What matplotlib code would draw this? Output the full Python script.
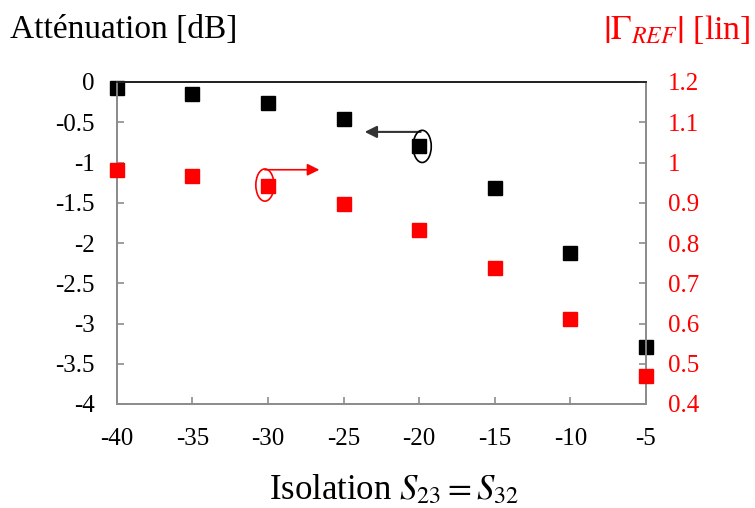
import matplotlib
matplotlib.use("Agg")
import matplotlib.pyplot as plt
from matplotlib.patches import Ellipse

plt.rcParams['font.family'] = ['Liberation Serif', 'DejaVu Serif']
plt.rcParams['mathtext.fontset'] = 'stix'

isolation = [-40, -35, -30, -25, -20, -15, -10, -5]
attenuation_db = [-0.07, -0.15, -0.26, -0.46, -0.80, -1.32, -2.12, -3.29]
gamma_ref = [0.981, 0.966, 0.941, 0.898, 0.832, 0.738, 0.611, 0.470]

left_ticks = [0, -0.5, -1, -1.5, -2, -2.5, -3, -3.5, -4]
right_ticks = [1.2, 1.1, 1.0, 0.9, 0.8, 0.7, 0.6, 0.5, 0.4]
x_ticks = [-40, -35, -30, -25, -20, -15, -10, -5]

fig = plt.figure(figsize=(7.55, 5.08), dpi=100)
ax = fig.add_axes([116.7 / 755, 1 - 404 / 508, (646 - 116.7) / 755, (404 - 82) / 508])
ax2 = ax.twinx()

spine_gray = '#8c8c8c'
for a in (ax, ax2):
    for s in ('left', 'right', 'bottom'):
        a.spines[s].set_color(spine_gray)
        a.spines[s].set_linewidth(1.3)
    a.spines['top'].set_color('#222222')
    a.spines['top'].set_linewidth(1.3)

ax.plot(isolation, attenuation_db, 's', color='black', markersize=9.5, zorder=3, clip_on=False)
ax2.plot(isolation, gamma_ref, 's', color='red', markersize=9.5, zorder=3, clip_on=False)

ax.set_xlim(-40, -5)
ax.set_ylim(-4, 0)
ax2.set_ylim(0.4, 1.2)

ax.set_xticks(x_ticks)
ax.set_xticklabels([f"{v:g}" for v in x_ticks])
ax.set_yticks(left_ticks)
ax.set_yticklabels([f"{v:g}" for v in left_ticks])
ax2.set_yticks(right_ticks)
ax2.set_yticklabels([f"{v:g}" for v in right_ticks])

ax.tick_params(axis='both', direction='in', length=5, width=1.2, color=spine_gray,
               labelsize=18, labelcolor='black')
ax.tick_params(axis='x', pad=17)
ax.tick_params(axis='y', pad=16)
ax2.tick_params(axis='y', direction='in', length=5, width=1.2, color=spine_gray,
                labelsize=18, labelcolor='red', pad=16)

# series indicators: ellipse around a point with arrow toward its axis
ax.add_patch(Ellipse((-19.8, -0.80), 1.2, 0.40, fill=False, edgecolor='black', lw=1.2, zorder=4))
ax.annotate('', xy=(-23.6, -0.62), xytext=(-19.9, -0.62),
            arrowprops=dict(arrowstyle='-|>', color='#333333', lw=1.5, mutation_scale=18,
                            shrinkA=0, shrinkB=0))
ax.add_patch(Ellipse((-30.2, -1.28), 1.2, 0.40, fill=False, edgecolor='red', lw=1.2, zorder=4))
ax.annotate('', xy=(-26.6, -1.09), xytext=(-30.2, -1.09),
            arrowprops=dict(arrowstyle='-|>', color='red', lw=1.2, mutation_scale=18,
                            shrinkA=0, shrinkB=0))

fig.text(10 / 755, 1 - 30 / 508, 'Atténuation [dB]', fontsize=24, ha='left', va='center')
fig.text(751 / 755, 1 - 30 / 508, r'$\left|\Gamma_{REF}\right|$ [lin]', fontsize=24.5, ha='right',
         va='center', color='red')
fig.text(394 / 755, 1 - 490 / 508, r'Isolation $S_{23} = S_{32}$', fontsize=25,
         ha='center', va='center')

fig.savefig('out.png', dpi=100)
